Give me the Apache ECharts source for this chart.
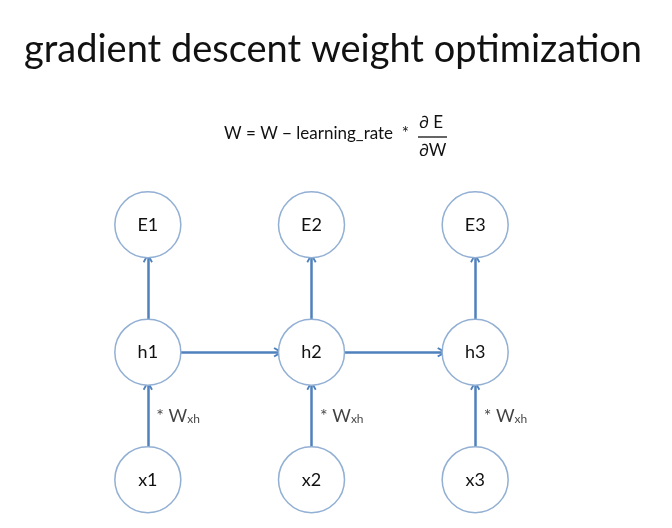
<!DOCTYPE html>
<html>
<head>
<meta charset="utf-8">
<script src="https://cdn.jsdelivr.net/npm/echarts@6/dist/echarts.min.js"></script>
<style>html,body{margin:0;padding:0;background:#fff}#c{width:672px;height:528px}</style>
</head>
<body>
<div id="c"></div>
<script>
// ---- data ----
const titleText = 'gradient descent weight optimization';
const timeSteps = [1, 2, 3];                 // columns (time steps)
const layerNames = ['x', 'h', 'E'];          // bottom to top
const layerLevels = [1, 2, 3];               // vertical level of each layer
const inputWeightLabel = ['* W', 'xh'];      // label on x -> h arrows
const formulaLeft = 'W = W \u2212 learning_rate  *';
const formulaNum = '\u2202 E';
const formulaDen = '\u2202W';

const FONT = 'Lato, "Open Sans", sans-serif';
const NODE_BORDER = '#92afd4';
const ARROW = '#4f81bd';

// build nodes
const nodes = [];
timeSteps.forEach(t => {
  layerNames.forEach((l, i) => {
    nodes.push({ name: l + t, value: [t, layerLevels[i]] });
  });
});
// build edges
const edges = [];
timeSteps.forEach((t, k) => {
  edges.push({ source: 'x' + t, target: 'h' + t });
  edges.push({ source: 'h' + t, target: 'E' + t });
  if (k < timeSteps.length - 1) edges.push({ source: 'h' + t, target: 'h' + timeSteps[k + 1] });
});
// weight label anchors: midway between x and h layers
const weightLabelPoints = timeSteps.map(t => [t, (layerLevels[0] + layerLevels[1]) / 2]);

const chevron = 'path://M5,0 L10,8 L8.4,9 L5,3.4 L1.6,9 L0,8 Z';

const chart = echarts.init(document.getElementById('c'));
chart.setOption({
  backgroundColor: '#ffffff',
  animation: false,
  title: {
    text: titleText,
    left: 19,
    top: 26,
    textStyle: { fontFamily: FONT, fontSize: 38, fontWeight: 'normal', color: '#111' }
  },
  grid: { left: 66, width: 491, top: 161, height: 350.6 },
  xAxis: { type: 'value', min: 0.5, max: 3.5, show: false },
  yAxis: { type: 'value', min: 0.75, max: 3.5, show: false },
  graphic: [
    { type: 'text', left: 224, top: 125,
      style: { text: formulaLeft, font: '17px ' + FONT, fill: '#111' } },
    { type: 'text', left: 419, top: 114,
      style: { text: formulaNum, font: '17px ' + FONT, fill: '#111' } },
    { type: 'line', shape: { x1: 418, y1: 137, x2: 447, y2: 137 },
      style: { stroke: '#111', lineWidth: 1.3 } },
    { type: 'text', left: 419, top: 142,
      style: { text: formulaDen, font: '17px ' + FONT, fill: '#111' } }
  ],
  series: [
    {
      type: 'graph',
      coordinateSystem: 'cartesian2d',
      layout: 'none',
      symbol: 'circle',
      symbolSize: 66,
      z: 3,
      itemStyle: { color: '#ffffff', borderColor: NODE_BORDER, borderWidth: 1.5 },
      label: { show: true, position: 'inside', fontFamily: FONT, fontSize: 18, color: '#111' },
      edgeSymbol: ['none', chevron],
      edgeSymbolSize: [0, 10],
      lineStyle: { color: ARROW, width: 2.5, opacity: 1 },
      emphasis: { disabled: true },
      data: nodes,
      links: edges
    },
    {
      type: 'scatter',
      symbolSize: 1,
      itemStyle: { color: 'rgba(0,0,0,0)' },
      z: 4,
      label: {
        show: true,
        position: 'right',
        distance: 8,
        formatter: '{a|' + inputWeightLabel[0] + '}{b|' + inputWeightLabel[1] + '}',
        rich: {
          a: { fontFamily: FONT, fontSize: 18, color: '#111' },
          b: { fontFamily: FONT, fontSize: 12, color: '#111', padding: [6, 0, 0, 0] }
        }
      },
      data: weightLabelPoints
    }
  ]
});
</script>
</body>
</html>
